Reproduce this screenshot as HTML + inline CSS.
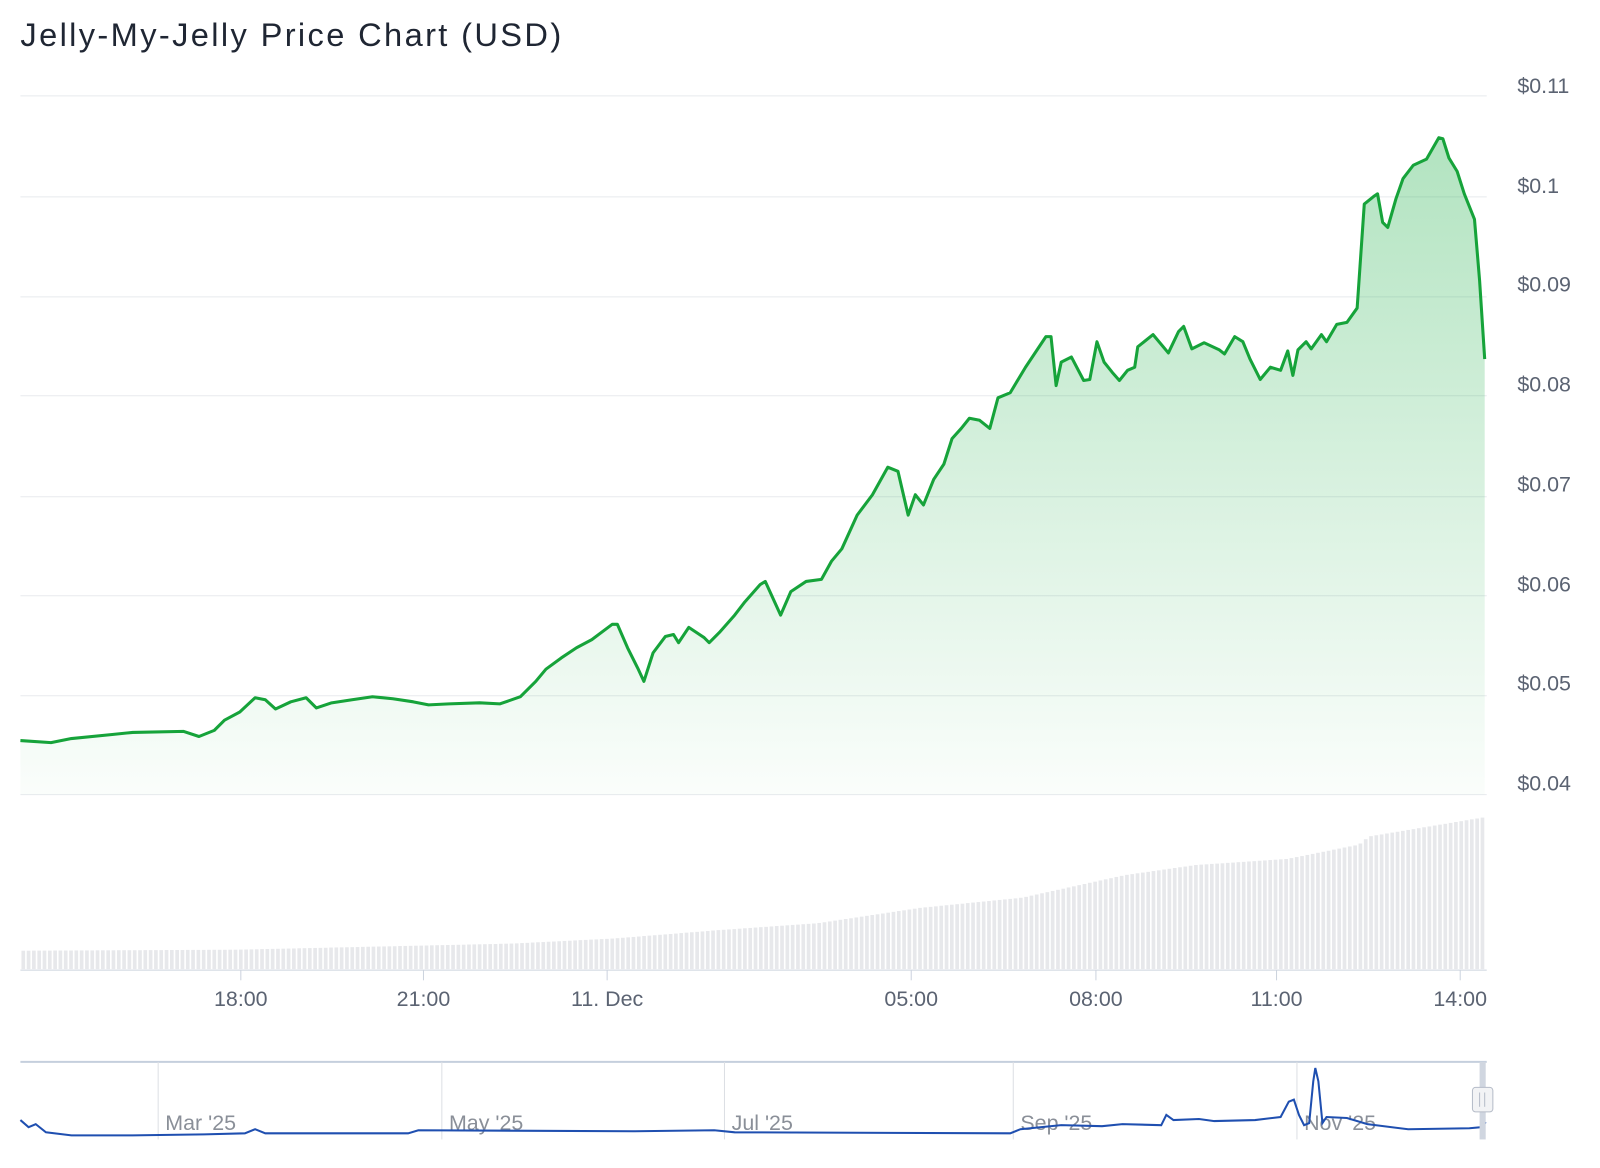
<!DOCTYPE html>
<html><head><style>
html,body{margin:0;padding:0;background:#fff;width:1600px;height:1168px;overflow:hidden;font-family:"Liberation Sans",sans-serif}
svg{display:block}
</style></head><body>
<svg id="s" width="1600" height="1168" viewBox="0 0 1568 1145" preserveAspectRatio="none" xmlns="http://www.w3.org/2000/svg">
<defs><linearGradient id="g" x1="0" y1="0" x2="0" y2="1"><stop offset="0" stop-color="#22b04b" stop-opacity="0.35"/><stop offset="1" stop-color="#22b04b" stop-opacity="0.02"/></linearGradient></defs>
<text x="20" y="45" font-size="32" fill="#1f2633" textLength="530" lengthAdjust="spacing">Jelly-My-Jelly Price Chart (USD)</text>
<g stroke="#e8eaee" stroke-width="1">
<line x1="20" x2="1457" y1="94" y2="94"/><line x1="20" x2="1457" y1="193" y2="193"/><line x1="20" x2="1457" y1="291" y2="291"/><line x1="20" x2="1457" y1="388" y2="388"/><line x1="20" x2="1457" y1="487" y2="487"/><line x1="20" x2="1457" y1="584" y2="584"/><line x1="20" x2="1457" y1="682" y2="682"/><line x1="20" x2="1457" y1="779" y2="779"/>
</g>
<g font-size="21" fill="#5b6372">
<text x="1487" y="91">$0.11</text><text x="1487" y="189">$0.1</text><text x="1487" y="286">$0.09</text><text x="1487" y="384">$0.08</text><text x="1487" y="482">$0.07</text><text x="1487" y="580">$0.06</text><text x="1487" y="677">$0.05</text><text x="1487" y="775">$0.04</text>
</g>
<g id="vol" fill="#e7e8eb"></g>
<path id="area" fill="url(#g)"/>
<path id="line" fill="none" stroke="#16a33a" stroke-width="3" stroke-linejoin="round"/>
<line x1="20" x2="1457" y1="951" y2="951" stroke="#ccd3de"/>
<g stroke="#ccd3de"><line x1="236" x2="236" y1="951" y2="961"/><line x1="415" x2="415" y1="951" y2="961"/><line x1="595" x2="595" y1="951" y2="961"/><line x1="893" x2="893" y1="951" y2="961"/><line x1="1074" x2="1074" y1="951" y2="961"/><line x1="1251" x2="1251" y1="951" y2="961"/><line x1="1431" x2="1431" y1="951" y2="961"/></g>
<g font-size="21" fill="#5b6372" text-anchor="middle">
<text x="236" y="986">18:00</text><text x="415" y="986">21:00</text><text x="595" y="986">11. Dec</text><text x="893" y="986">05:00</text><text x="1074" y="986">08:00</text><text x="1251" y="986">11:00</text><text x="1431" y="986">14:00</text>
</g>
<line x1="20" x2="1457" y1="1041" y2="1041" stroke="#c5cfdd" stroke-width="2"/>
<g stroke="#dcdfe4"><line x1="155" x2="155" y1="1041" y2="1117"/><line x1="433" x2="433" y1="1041" y2="1117"/><line x1="710" x2="710" y1="1041" y2="1117"/><line x1="993" x2="993" y1="1041" y2="1117"/><line x1="1271" x2="1271" y1="1041" y2="1117"/></g>
<g font-size="21" fill="#8a8f98"><text x="162" y="1108">Mar '25</text><text x="440" y="1108">May '25</text><text x="717" y="1108">Jul '25</text><text x="1000" y="1108">Sep '25</text><text x="1278" y="1108">Nov '25</text></g>
<path fill="none" stroke="#1f4fb0" stroke-width="2" d="M20,1098 L28,1105 L35,1102 L45,1110 L70,1113 L130,1113 L200,1112 L240,1111 L250,1107 L260,1111 L400,1111 L410,1108 L620,1109 L700,1108 L720,1110 L990,1111 L1000,1107 L1040,1103 L1080,1104 L1100,1102 L1138,1103 L1143,1093 L1150,1098 L1175,1097 L1190,1099 L1230,1098 L1255,1095 L1263,1080 L1268,1078 L1273,1093 L1278,1103 L1283,1101 L1287,1060 L1289,1047 L1292,1060 L1296,1101 L1300,1095 L1320,1096 L1340,1102 L1380,1107 L1440,1106 L1452,1105 L1456,1100"/>
<rect x="1450" y="1041" width="6" height="76" fill="#d0d6e0"/>
<rect x="1443" y="1066" width="20" height="24" rx="3" fill="#f2f3f5" stroke="#b5bcc8"/>
<line x1="1450" x2="1450" y1="1071" y2="1085" stroke="#b5bcc8"/><line x1="1455" x2="1455" y1="1071" y2="1085" stroke="#b5bcc8"/>
</svg>
<script>
(function(){
var p=[[20,726],[50,728],[70,724],[110,720],[130,718],[180,717],[195,722],[210,716],[220,706],[235,698],[250,684],[260,686],[270,695],[285,688],[300,684],[310,694],[325,689],[345,686],[365,683],[385,685],[405,688],[420,691],[440,690],[470,689],[490,690],[510,683],[525,668],[535,656],[550,645],[565,635],[580,627],[600,612],[605,612],[615,635],[625,655],[631,668],[640,640],[652,624],[660,622],[665,630],[675,615],[690,625],[695,630],[705,620],[720,603],[730,590],[745,573],[750,570],[765,603],[775,580],[790,570],[805,568],[815,550],[825,538],[840,505],[855,485],[870,458],[880,462],[890,505],[897,485],[905,495],[915,470],[925,455],[933,430],[942,420],[950,410],[960,412],[970,420],[978,390],[990,385],[1005,360],[1025,330],[1030,330],[1035,378],[1040,355],[1050,350],[1062,373],[1068,372],[1075,335],[1082,355],[1090,365],[1097,373],[1105,363],[1112,360],[1115,340],[1130,328],[1145,346],[1155,325],[1160,320],[1168,342],[1180,336],[1195,343],[1200,347],[1210,330],[1218,335],[1225,352],[1235,372],[1245,360],[1255,363],[1262,344],[1267,368],[1272,343],[1280,335],[1285,342],[1295,328],[1300,335],[1310,318],[1320,316],[1330,302],[1337,200],[1347,192],[1350,190],[1355,218],[1360,223],[1368,195],[1375,175],[1385,162],[1398,156],[1410,135],[1414,136],[1420,155],[1428,168],[1435,190],[1445,215],[1450,275],[1455,352]];
var d="M"+p.map(function(a){return a.join(",")}).join(" L");
document.getElementById("line").setAttribute("d",d);
document.getElementById("area").setAttribute("d",d+" L1455,779 L20,779 Z");
var t=[[20,932],[230,931],[500,925],[600,920],[700,912],[800,905],[900,890],[1000,880],[1100,858],[1170,848],[1260,842],[1330,828],[1340,820],[1460,800]];
function topAt(x){for(var i=1;i<t.length;i++){if(x<=t[i][0]){var a=t[i-1],b=t[i];return a[1]+(b[1]-a[1])*(x-a[0])/(b[0]-a[0]);}}return 800;}
var g=document.getElementById("vol"),ns="http://www.w3.org/2000/svg";
for(var x=21;x<1456;x+=5.2){var y=topAt(x);var r=document.createElementNS(ns,"rect");r.setAttribute("x",x.toFixed(1));r.setAttribute("y",y.toFixed(1));r.setAttribute("width","3.6");r.setAttribute("height",(950-y).toFixed(1));g.appendChild(r);}
})();
</script>
</body></html>
